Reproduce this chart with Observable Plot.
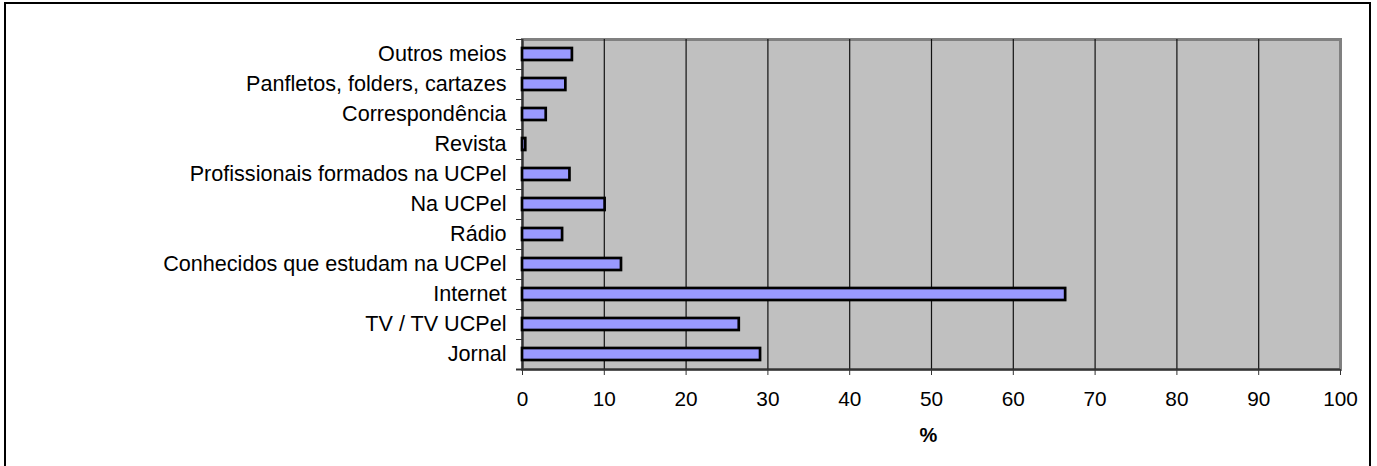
<!DOCTYPE html>
<html>
<head>
<meta charset="utf-8">
<script src="https://cdn.jsdelivr.net/npm/d3@7"></script>
<script src="https://cdn.jsdelivr.net/npm/@observablehq/plot@0.6"></script>
<style>
  html, body { margin: 0; padding: 0; background: white; }
  #wrap { position: relative; width: 1377px; height: 466px; overflow: hidden; }
  #border { position: absolute; left: 4px; top: 2px; width: 1367px; height: 480px; border: 2px solid black; box-sizing: border-box; pointer-events: none; }
</style>
</head>
<body>
<div id="wrap"><div id="border"></div></div>
<script>
const categories = ["Outros meios", "Panfletos, folders, cartazes", "Correspondência", "Revista", "Profissionais formados na UCPel", "Na UCPel", "Rádio", "Conhecidos que estudam na UCPel", "Internet", "TV / TV UCPel", "Jornal"];
const values = [6.1, 5.3, 2.9, 0.4, 5.8, 10.1, 4.9, 12.1, 66.4, 26.5, 29.1];
const xTicks = [0, 10, 20, 30, 40, 50, 60, 70, 80, 90, 100];
const xLabel = "%";

const data = categories.map((c, i) => ({category: c, value: values[i]}));

const chart = Plot.plot({
  width: 1377,
  height: 466,
  marginLeft: 522,
  marginRight: 37,
  marginTop: 39,
  marginBottom: 97,
  style: {fontFamily: "'Liberation Sans', Arial, sans-serif", fontSize: "21px", color: "black", background: "transparent"},
  x: {domain: [0, 100], label: null},
  y: {domain: categories, label: null, paddingInner: 0.6, paddingOuter: 0.3},
  marks: [
    Plot.frame({fill: "#C0C0C0", stroke: "#808080", strokeWidth: 3}),
    Plot.ruleX(xTicks.slice(1, -1), {stroke: "#111", strokeWidth: 1.2}),
    Plot.ruleX([0], {stroke: "#333", strokeWidth: 2}),
    Plot.ruleY([categories[categories.length - 1]], {dy: 15, insetLeft: -6, stroke: "#333", strokeWidth: 2}),
    Plot.barX(data, {x: "value", y: "category", fill: "#9999FF", stroke: "black", strokeWidth: 2.7}),
    Plot.axisY({tickSize: 0, tickPadding: 16, fill: "black", fontSize: 21.6}),
    Plot.axisY({tickSize: 6, tickFormat: () => "", dy: -15, stroke: "#333"}),
    Plot.axisX({ticks: xTicks, tickSize: 6, tickPadding: 16, stroke: "#333", fill: "black", fontSize: 20.8}),
    Plot.text([xLabel], {frameAnchor: "bottom", dy: 72, dx: -3, fontWeight: "bold", fontSize: 20, fill: "black"})
  ]
});
document.getElementById("wrap").prepend(chart);
</script>
</body>
</html>
